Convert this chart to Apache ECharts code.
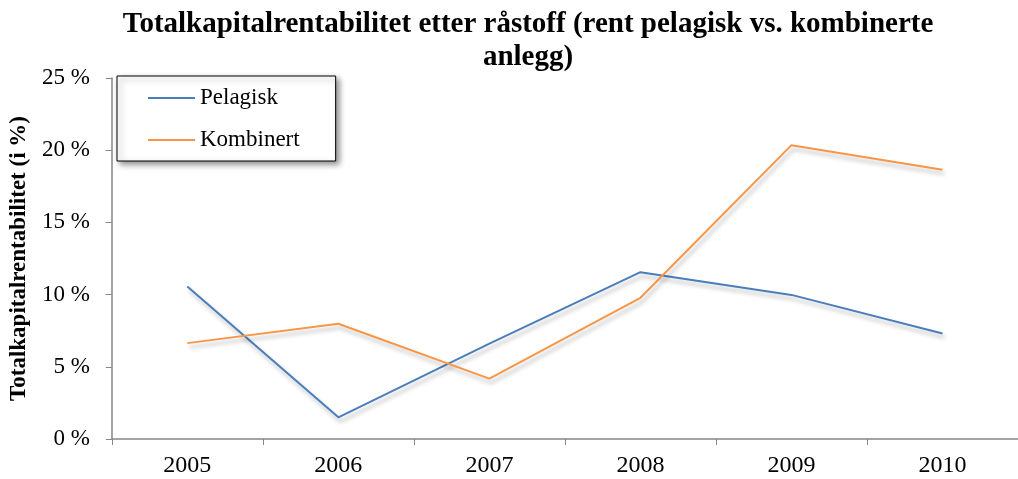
<!DOCTYPE html>
<html>
<head>
<meta charset="utf-8">
<style>
  html, body { margin: 0; padding: 0; background: #fff; }
  #chart { width: 1018px; height: 479px; }
</style>
<script src="https://cdn.jsdelivr.net/npm/echarts@6/dist/echarts.min.js"></script>
</head>
<body>
<div id="chart"></div>
<script>
var years = ['2005', '2006', '2007', '2008', '2009', '2010'];
var pelagisk = [10.56, 1.5, 6.6, 11.55, 9.98, 7.3];
var kombinert = [6.64, 7.98, 4.18, 9.78, 20.35, 18.64];
var yTicks = [0, 5, 10, 15, 20, 25];

var font = '"Liberation Serif", "Times New Roman", serif';
var axisGrey = '#868686';
var lineShadow = {
  shadowColor: 'rgba(0,0,0,0.28)',
  shadowBlur: 4,
  shadowOffsetX: 2,
  shadowOffsetY: 4
};

var chart = echarts.init(document.getElementById('chart'));
chart.setOption({
  animation: false,
  title: {
    text: 'Totalkapitalrentabilitet etter råstoff (rent pelagisk vs. kombinerte\nanlegg)',
    left: 523,
    top: 3,
    textAlign: 'center',
    textStyle: {
      fontFamily: font, fontSize: 29, fontWeight: 'bold',
      color: '#000', lineHeight: 33
    }
  },
  legend: {
    orient: 'vertical',
    left: 117,
    top: 76,
    padding: [10, 36, 9, 31],
    itemGap: 18,
    itemWidth: 47,
    itemHeight: 2,
    icon: 'rect',
    backgroundColor: '#fff',
    borderColor: '#000',
    borderWidth: 1,
    shadowColor: 'rgba(0,0,0,0.45)',
    shadowBlur: 6,
    shadowOffsetX: 3,
    shadowOffsetY: 3,
    textStyle: { fontFamily: font, fontSize: 23, color: '#000', lineHeight: 24 },
    data: ['Pelagisk', 'Kombinert']
  },
  grid: { left: 110, top: 78, right: -10, bottom: 40, containLabel: false },
  xAxis: {
    type: 'category',
    data: years,
    boundaryGap: true,
    axisLine: { lineStyle: { color: axisGrey, width: 1.5 } },
    axisTick: { show: true, length: 6, lineStyle: { color: axisGrey } },
    axisLabel: { fontFamily: font, fontSize: 24, color: '#000', margin: 15 }
  },
  yAxis: {
    type: 'value',
    min: 0,
    max: 25,
    interval: 5,
    name: 'Totalkapitalrentabilitet (i %)',
    nameLocation: 'middle',
    nameGap: 72,
    nameTextStyle: { fontFamily: font, fontSize: 23, fontWeight: 'bold', color: '#000' },
    axisLine: { show: true, lineStyle: { color: axisGrey, width: 1.5 } },
    axisTick: { show: true, length: 6, lineStyle: { color: axisGrey } },
    splitLine: { show: false },
    axisLabel: {
      fontFamily: font, fontSize: 23, color: '#000', margin: 22,
      formatter: function (v) { return yTicks.indexOf(v) >= 0 ? v + ' %' : ''; }
    }
  },
  series: [
    {
      name: 'Pelagisk',
      type: 'line',
      data: pelagisk,
      symbol: 'none',
      color: '#4a7ebb',
      lineStyle: Object.assign({ color: '#4a7ebb', width: 2 }, lineShadow)
    },
    {
      name: 'Kombinert',
      type: 'line',
      data: kombinert,
      symbol: 'none',
      color: '#f79646',
      lineStyle: Object.assign({ color: '#f79646', width: 2 }, lineShadow)
    }
  ]
});
</script>
</body>
</html>
